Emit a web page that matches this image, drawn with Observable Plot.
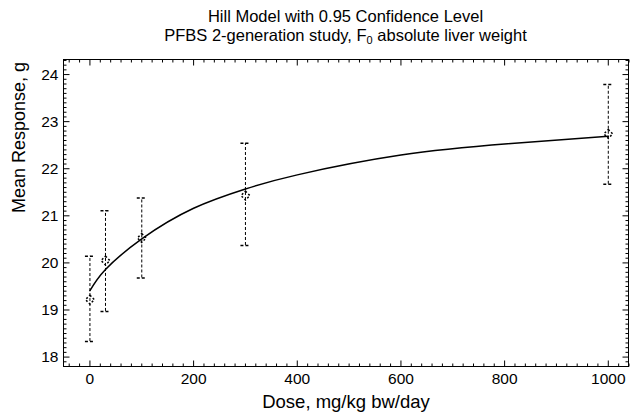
<!DOCTYPE html>
<html><head><meta charset="utf-8">
<script src="https://cdn.jsdelivr.net/npm/d3@7"></script>
<script src="https://cdn.jsdelivr.net/npm/@observablehq/plot@0.6"></script>
<style>
body{margin:0;background:#fff;}
#wrap{position:relative;width:631px;height:416px;font-family:"Liberation Sans",Arial,sans-serif;}
#title{position:absolute;left:63px;width:565px;top:7px;text-align:center;font-size:16.5px;line-height:19px;color:#000;z-index:2;}
#title sub{font-size:11px;vertical-align:-3px;line-height:0;}
#chart{position:absolute;left:0;top:0;}
</style></head><body>
<div id="wrap"><div id="title">Hill Model with 0.95 Confidence Level<br>PFBS 2-generation study, F<sub>0</sub> absolute liver weight</div><div id="chart"></div></div>
<script>
const doses = [0, 30, 100, 300, 1000];
const means = [19.22, 20.05, 20.53, 21.43, 22.74];
const lower = [18.33, 18.97, 19.68, 20.37, 21.67];
const upper = [20.14, 21.11, 21.38, 22.54, 23.79];
const fitDose = [0, 30, 100, 200, 300, 400, 600, 806, 1000];
const fitResp = [19.41, 19.86, 20.51, 21.16, 21.57, 21.87, 22.29, 22.53, 22.69];
const xTicks = [0, 200, 400, 600, 800, 1000];
const yTicks = [18, 19, 20, 21, 22, 23, 24];
const xLabel = "Dose, mg/kg bw/day";
const yLabel = "Mean Response, g";

const obs = doses.map((d, i) => ({dose: d, mean: means[i], lo: lower[i], hi: upper[i]}));
const fit = fitDose.map((d, i) => ({dose: d, resp: fitResp[i]}));

const xDomain = [-51, 1039], yDomain = [17.8, 24.32];
const xMinor = d3.range(-40, 1041, 20).filter(v => !xTicks.includes(v));
const yMinor = d3.range(178, 244, 1).map(v => v / 10).filter(v => !yTicks.includes(v));

const seg = (x0, y0, x1, y1) => ({draw(ctx) { ctx.moveTo(x0, y0); ctx.lineTo(x1, y1); }});
const cap = seg(-5, 0, 5, 0);
const tk = (o) => ({fill: "none", stroke: "black", strokeWidth: 1, ...o});

const plot = Plot.plot({
  width: 631, height: 416,
  marginLeft: 63, marginRight: 3, marginTop: 59, marginBottom: 50,
  style: {fontFamily: "'Liberation Sans', Arial, sans-serif", fontSize: "15.5px", background: "white", color: "black"},
  x: {domain: xDomain},
  y: {domain: yDomain},
  marks: [
    Plot.axisX({ticks: xTicks, tickFormat: d => String(d), tickSize: 0, tickPadding: 6, label: null, fontSize: 15.5}),
    Plot.axisY({ticks: yTicks, tickFormat: d => String(d), tickSize: 0, tickPadding: 5, label: null, fontSize: 15.5}),
    // ticks inside the frame
    Plot.dot(xTicks, tk({x: d => d, frameAnchor: "bottom", symbol: seg(0, 0, 0, -6)})),
    Plot.dot(xMinor, tk({x: d => d, frameAnchor: "bottom", symbol: seg(0, 0, 0, -3)})),
    Plot.dot(xTicks, tk({x: d => d, frameAnchor: "top", symbol: seg(0, 0, 0, 6)})),
    Plot.dot(xMinor, tk({x: d => d, frameAnchor: "top", symbol: seg(0, 0, 0, 3)})),
    Plot.dot(yTicks, tk({y: d => d, frameAnchor: "left", symbol: seg(0, 0, 6, 0)})),
    Plot.dot(yMinor, tk({y: d => d, frameAnchor: "left", symbol: seg(0, 0, 3, 0)})),
    Plot.dot(yTicks, tk({y: d => d, frameAnchor: "right", symbol: seg(0, 0, -6, 0)})),
    Plot.dot(yMinor, tk({y: d => d, frameAnchor: "right", symbol: seg(0, 0, -3, 0)})),
    Plot.frame({stroke: "black", strokeWidth: 1}),
    // error bars
    Plot.ruleX(obs, {x: "dose", y1: "lo", y2: "hi", stroke: "black", strokeDasharray: "3,2"}),
    Plot.dot(obs, {x: "dose", y: "hi", symbol: cap, fill: "none", stroke: "black", strokeDasharray: "3,2"}),
    Plot.dot(obs, {x: "dose", y: "lo", symbol: cap, fill: "none", stroke: "black", strokeDasharray: "3,2"}),
    Plot.dot(obs, {x: "dose", y: "mean", symbol: "diamond2", r: 4, fill: "none", stroke: "black", strokeDasharray: "2,2"}),
    // fitted curve
    Plot.line(fit, {x: "dose", y: "resp", curve: "natural", stroke: "black", strokeWidth: 1.5}),
    // axis titles
    Plot.text([xLabel], {text: d => d, frameAnchor: "bottom", dy: 41, fontSize: 18.5}),
    Plot.text([yLabel], {text: d => d, frameAnchor: "left", dx: -44, rotate: -90, fontSize: 18})
  ]
});
document.getElementById("chart").appendChild(plot);
</script>
</body></html>
